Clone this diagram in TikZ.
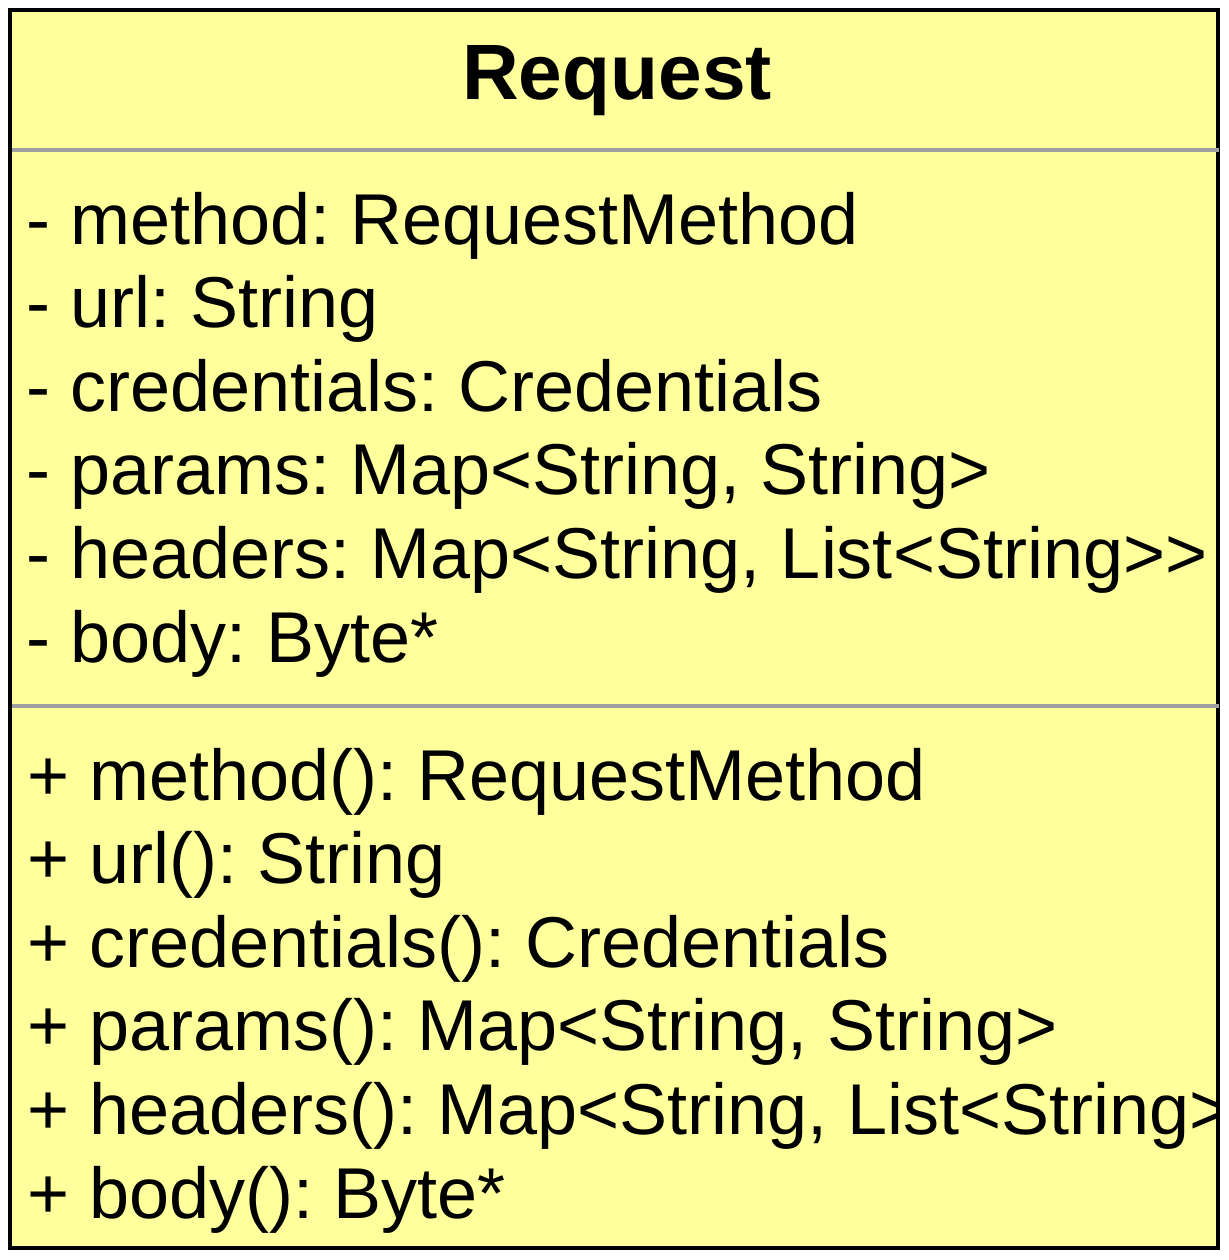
\documentclass[tikz,border=0pt]{standalone}
\usepackage{fontspec}
\setmainfont{Liberation Sans}
\frenchspacing
\definecolor{umlfill}{RGB}{255,255,155}
\definecolor{sepgray}{RGB}{160,160,160}
\begin{document}
\begin{tikzpicture}[x=1pt,y=-1pt,
  member/.style={anchor=base west,inner sep=0pt,font=\fontsize{72}{86}\selectfont\frenchspacing},
  titletext/.style={anchor=base,inner sep=0pt,font=\fontsize{78.5}{94}\selectfont\bfseries}]
\useasboundingbox (0,0) rectangle (1228,1260);
\fill[umlfill] (10,10) rectangle (1218,1248);
\begin{scope}
\clip (12,12) rectangle (1216,1246);
\node[titletext] (title) at (617,100) {Request};
\node[member] (a1) at (26.5,244) {- method: RequestMethod};
\node[member] (a2) at (26.5,327.6) {- url: String};
\node[member] (a3) at (26.5,411.2) {- credentials: Credentials};
\node[member] (a4) at (26.5,494.8) {- params: Map<String, String>};
\node[member] (a5) at (26.5,578.4) {- headers: Map<String, List<String>{}>};
\node[member] (a6) at (26.5,662) {- body: Byte*};
\node[member] (m1) at (27,800) {+ method(): RequestMethod};
\node[member] (m2) at (27,883.6) {+ url(): String};
\node[member] (m3) at (27,967.2) {+ credentials(): Credentials};
\node[member] (m4) at (27,1050.8) {+ params(): Map<String, String>};
\node[member] (m5) at (27,1134.4) {+ headers(): Map<String, List<String>{}>};
\node[member] (m6) at (27,1218) {+ body(): Byte*};
\end{scope}
\draw[line width=4.5pt] (10,10) rectangle (1218,1248);
\draw[sepgray,line width=4pt] (12,150) -- (1219,150);
\draw[sepgray,line width=4pt] (12,706) -- (1219,706);
\end{tikzpicture}
\end{document}
